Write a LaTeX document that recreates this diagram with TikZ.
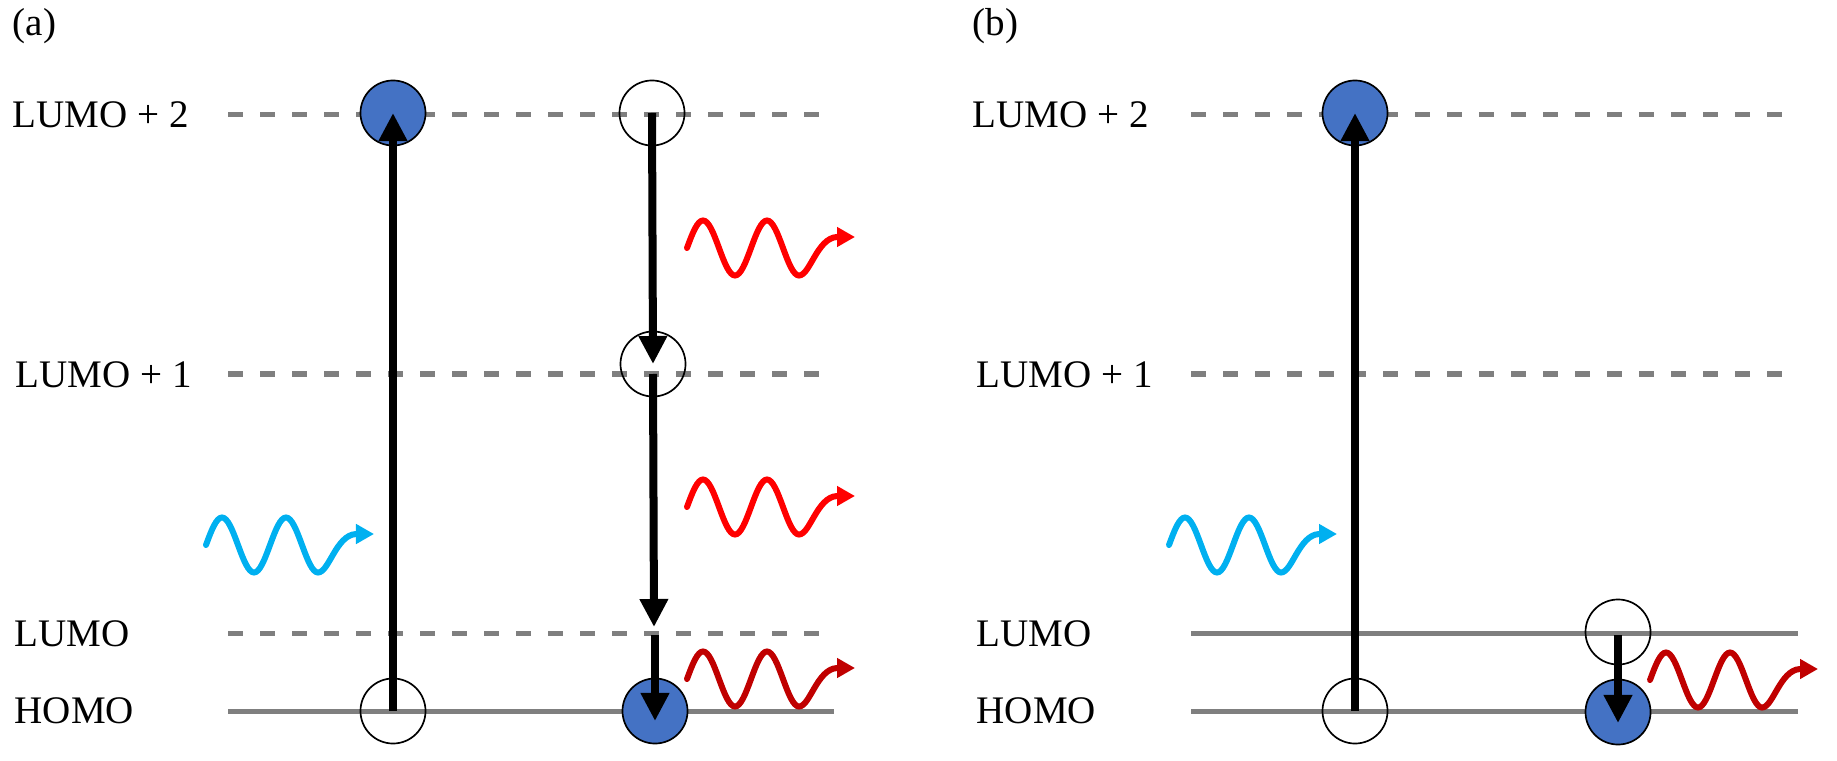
\documentclass[tikz,border=0pt]{standalone}
\usepackage{fontspec}
\setmainfont{Liberation Serif}
\usepackage{tikz}
\usetikzlibrary{arrows.meta,positioning}
\definecolor{LevelGray}{HTML}{7F7F7F}
\definecolor{Filled}{HTML}{4472C4}
\definecolor{Pump}{HTML}{00B0F0}
\definecolor{Emit}{HTML}{FF0000}
\definecolor{EmitDeep}{HTML}{C00000}
\tikzset{
  occ/.style={draw=LevelGray,line width=.05cm},
  unocc/.style={occ,dash pattern=on .15cm off .17cm},
  electron/.style={circle,draw=black,fill=Filled,line width=.48pt,minimum size=.65cm,inner sep=0pt},
  hole/.style={electron,fill=none},
  jump/.style={-{Triangle[length=2.8mm,width=2.7mm]},draw=black,line width=.08cm},
  lvltext/.style={anchor=west,inner sep=0pt,font=\fontsize{11.1}{13}\selectfont},
  photon/.pic={
    \draw[line width=.06cm,line cap=round,-{Triangle[length=1.8mm,width=1.9mm]}]
      plot[domain=0:112,samples=57,smooth] (\x,{-27.5*sin(5.625*\x)})
      .. controls (123,27.5) and (130,-10) .. (150,-11) -- (168,-11);}
}
\begin{document}
\begin{tikzpicture}[x=.01cm,y=-.01cm]
  \useasboundingbox (0,0) rectangle (1837,761);
  \node[lvltext] (tagA) at (12,26) {(a)};
  \node[lvltext] (tagB) at (972,26) {(b)};
  \node[lvltext] (aLumoTwo) at (12,115) {LUMO + 2};
  \node[lvltext] (aLumoOne) at (15,375) {LUMO + 1};
  \node[lvltext] (aLumo) at (14,634) {LUMO};
  \node[lvltext] (aHomo) at (14,711) {HOMO};
  \node[lvltext] (bLumoTwo) at (972,115) {LUMO + 2};
  \node[lvltext] (bLumoOne) at (976,375) {LUMO + 1};
  \node[lvltext] (bLumo) at (976,634) {LUMO};
  \node[lvltext] (bHomo) at (976,711) {HOMO};
  \draw[unocc] (228,115) -- (834,115);
  \draw[unocc] (228,374) -- (834,374);
  \draw[unocc] (228,633) -- (834,633);
  \draw[occ] (228,711) -- (834,711);
  \draw[unocc] (1191,115) -- (1798,115);
  \draw[unocc] (1191,374) -- (1798,374);
  \draw[occ] (1191,633) -- (1798,633);
  \draw[occ] (1191,711) -- (1798,711);
  \node[electron] (aUp) at (393,113) {};
  \node[hole] (aGround) at (393,711) {};
  \node[hole] (aTop) at (652,113) {};
  \node[hole] (aMid) at (653,364) {};
  \node[electron] (aBack) at (655,711) {};
  \coordinate (aMidOut) at (653,374);
  \coordinate (aLumoIn) at (654,627);
  \coordinate (aLumoOut) at (655,635);
  \coordinate (aBackIn) at (655,721);
  \draw[jump] (aGround.center) -- (aUp.center);
  \draw[jump] (aTop.center) -- (aMid.center);
  \draw[jump] (aMidOut) -- (aLumoIn);
  \draw[jump] (aLumoOut) -- (aBackIn);
  \node[electron] (bUp) at (1355,113) {};
  \node[hole] (bGround) at (1355,711) {};
  \node[hole] (bLow) at (1618,632) {};
  \node[electron] (bBack) at (1618,712) {};
  \coordinate (bLowOut) at (1618,635);
  \coordinate (bBackIn) at (1618,723);
  \draw[jump] (bGround.center) -- (bUp.center);
  \draw[jump] (bLowOut) -- (bBackIn);
  \pic[color=Pump] at (206,545) {photon};
  \pic[color=Emit] at (687,248) {photon};
  \pic[color=Emit] at (687,507) {photon};
  \pic[color=EmitDeep] at (687,679) {photon};
  \pic[color=Pump] at (1169,545) {photon};
  \pic[color=EmitDeep] at (1650,680) {photon};
\end{tikzpicture}
\end{document}
